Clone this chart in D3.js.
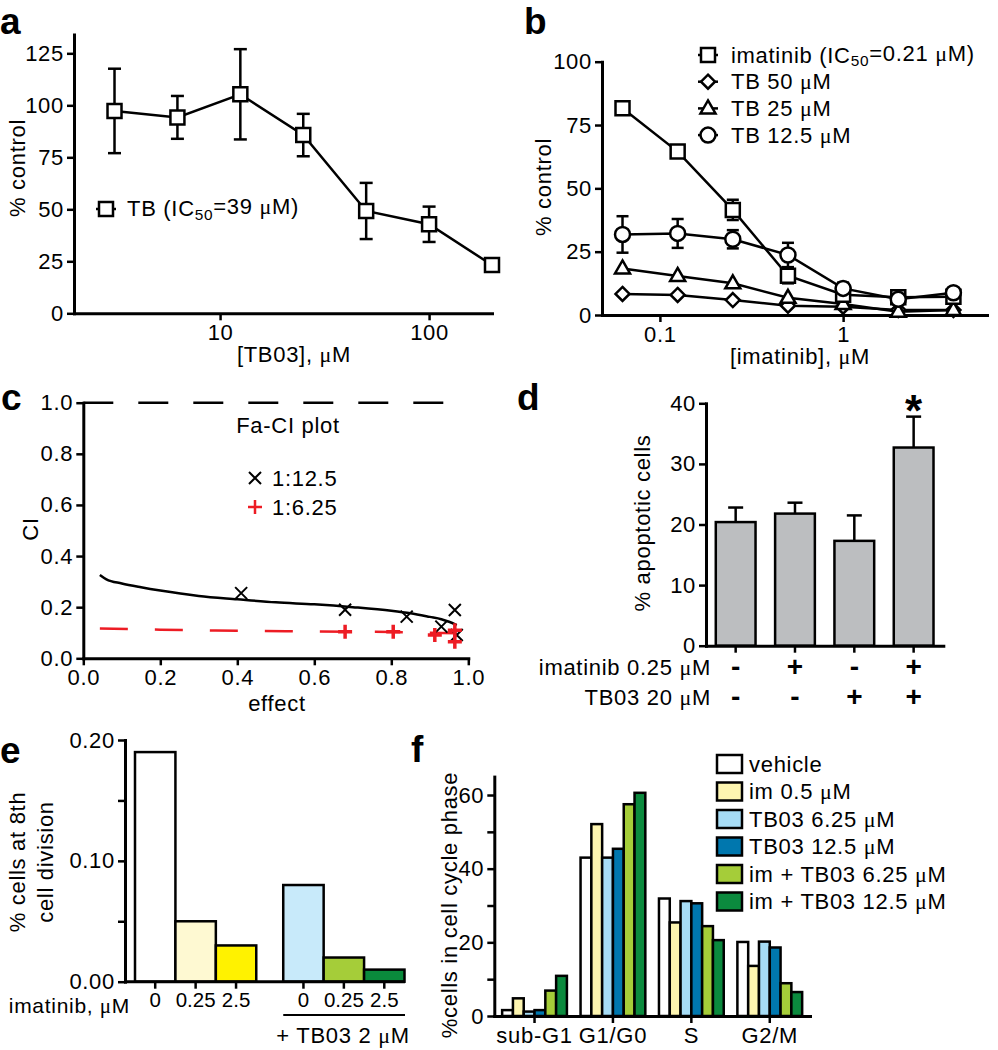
<!DOCTYPE html>
<html>
<head>
<meta charset="utf-8">
<script src="https://cdn.jsdelivr.net/npm/d3@7"></script>
<style>
  body { margin: 0; background: #fff; }
</style>
</head>
<body>
<div id="fig"></div>
<script>
// ---- data ----
// panel a
const aDose = [3.125, 6.25, 12.5, 25, 50, 100, 200];
const aMean = [97.3, 94.2, 105.3, 85.7, 49.2, 42.8, 23.2];
const aErr = [20.3, 10.3, 21.7, 10.2, 13.5, 8.5, 0];
const aTicksY = [0, 25, 50, 75, 100, 125];
const aTicksX = [10, 100];

// panel b
const bDose = [0.0625, 0.125, 0.25, 0.5, 1, 2, 4];
const bImatinib = [81.6, 64.5, 41.5, 15.5, 8, 7, 7.2];
const bImatinibErr = [0, 0, 4, 3, 1.5, 0.5, 0.5];
const bTb50 = [8.3, 7.9, 5.9, 3.7, 3.3, 2, 2];
const bTb25 = [18.4, 15.4, 12.5, 6.8, 4.3, 1.3, 2];
const bTb12 = [31.8, 32.2, 29.9, 23.7, 10.5, 6.2, 8.8];
const bTb12Err = [7.2, 5.7, 3.6, 4.8, 2.3, 0.5, 0.5];
const bTicksY = [0, 25, 50, 75, 100];
const bTicksX = [0.1, 1];

// panel c
const cCurveX = [0.043, 0.06, 0.1, 0.15, 0.2, 0.3, 0.4, 0.5, 0.6, 0.7, 0.8, 0.85, 0.9, 0.93, 0.95, 0.97];
const cCurveY = [0.326, 0.309, 0.293, 0.278, 0.265, 0.244, 0.231, 0.219, 0.211, 0.2, 0.186, 0.176, 0.162, 0.153, 0.143, 0.13];
const cRedLineX = [0.043, 0.2, 0.4, 0.6, 0.8, 0.9, 0.97];
const cRedLineY = [0.117, 0.112, 0.108, 0.105, 0.103, 0.1, 0.098];
const cBlackX = [0.41, 0.68, 0.84, 0.93, 0.965, 0.97];
const cBlackY = [0.255, 0.19, 0.163, 0.124, 0.189, 0.091];
const cRedX = [0.68, 0.805, 0.913, 0.965, 0.965];
const cRedY = [0.104, 0.104, 0.091, 0.11, 0.065];
const cTicks = [0, 0.2, 0.4, 0.6, 0.8, 1.0];

// panel d
const dGroups = ["g1", "g2", "g3", "g4"];
const dMean = [20.4, 21.8, 17.3, 32.7];
const dErr = [2.4, 1.8, 4.2, 5.1];
const dImatinib = ["-", "+", "-", "+"];
const dTb03 = ["-", "-", "+", "+"];
const dTicksY = [0, 10, 20, 30, 40];

// panel e
const eSets = ["none", "tb"];
const eDoses = ["0", "0.25", "2.5"];
const eValues = [[0.19, 0.05, 0.03], [0.08, 0.02, 0.01]];
const eTicksY = [0, 0.05, 0.10, 0.15, 0.20];

// panel f
const fPhases = ["sub-G1", "G1/G0", "S", "G2/M"];
const fSeries = ["vehicle", "im 0.5 μM", "TB03 6.25 μM", "TB03 12.5 μM", "im + TB03 6.25 μM", "im + TB03 12.5 μM"];
const fValues = [
  [1.6, 43, 31.9, 20.1],
  [4.8, 52.1, 25.4, 13.6],
  [1.2, 43, 31.2, 20.2],
  [1.6, 45.4, 30.6, 18.6],
  [6.9, 57.5, 24.4, 8.9],
  [10.9, 60.6, 20.6, 6.5]
];
const fTicksY = [0, 10, 20, 30, 40, 50, 60];

// ---- styles ----
const FONT = '"Liberation Sans", Arial, sans-serif';
const FS = 22;          // text size
const LS = "0.7px";     // the original lettering is a bit wide
const RED = "#ed1c24";
const E_COLORS = [["#ffffff", "#fef9d2", "#fff200"], ["#c8eafa", "#a5cd39", "#0a8a3c"]];
const F_COLORS = ["#ffffff", "#fdf5b0", "#a6dcf5", "#0077ae", "#a5cd39", "#0b8a3e"];

const svg = d3.select("#fig").append("svg")
    .attr("width", 998)
    .attr("height", 1050)
    .attr("font-family", FONT);

function styleAxis(g) {
  g.attr("font-family", FONT).attr("font-size", FS);
  g.select(".domain").attr("stroke", "#000").attr("stroke-width", 3)
    .attr("stroke-linecap", "square");
  g.selectAll(".tick line").attr("stroke", "#000").attr("stroke-width", 2.5);
  g.selectAll(".tick text").attr("fill", "#000").attr("letter-spacing", LS);
}

// text with a serif mu and optional subscript "50"
function richText(sel, str) {
  const parts = str.split(/(μ|_50)/);
  let sub = false;
  parts.forEach(p => {
    if (p === "") return;
    if (p === "μ") {
      sel.append("tspan").attr("font-family", '"Liberation Serif", serif').text("μ");
    } else if (p === "_50") {
      sel.append("tspan").attr("font-size", "0.7em").attr("dy", "0.25em").text("50");
      sub = true;
    } else {
      const t = sel.append("tspan").text(p);
      if (sub) { t.attr("dy", "-0.25em"); sub = false; }
    }
  });
}

function label(x, y, txt, opts = {}) {
  const t = svg.append("text")
      .attr("x", x).attr("y", y)
      .attr("font-size", opts.size || FS)
      .attr("letter-spacing", LS)
      .attr("text-anchor", opts.anchor || "start")
      .attr("font-weight", opts.weight || "normal")
      .attr("fill", opts.fill || "#000");
  if (opts.rotate) t.attr("transform", "rotate(-90," + x + "," + y + ")");
  richText(t, txt);
  return t;
}

function panelLetter(x, y, s) {
  svg.append("text").attr("x", x).attr("y", y)
    .attr("font-size", 37).attr("font-weight", "bold").text(s);
}

// marker shapes
const SYM = {
  square: "M-7,-7H7V7H-7Z",
  diamond: "M0,-7L7,0L0,7L-7,0Z",
  triangle: "M0,-8L7.5,5H-7.5Z",
  circle: "M7.5,0A7.5,7.5 0 1,1 -7.5,0A7.5,7.5 0 1,1 7.5,0Z",
  cross: "M-6,-6L6,6M-6,6L6,-6",
  plus: "M-7,0H7M0,-7V7"
};

function errorBars(g, xs, ys, errs, xScale, yScale, cap) {
  const d = xs.map((x, i) => ({x: x, y: ys[i], e: errs[i]})).filter(p => p.e > 0);
  const eb = g.selectAll(null).data(d).enter().append("g")
      .attr("stroke", "#000").attr("stroke-width", 2.5);
  eb.append("line")
      .attr("x1", p => xScale(p.x)).attr("x2", p => xScale(p.x))
      .attr("y1", p => yScale(p.y - p.e)).attr("y2", p => yScale(p.y + p.e));
  eb.append("line")
      .attr("x1", p => xScale(p.x) - cap).attr("x2", p => xScale(p.x) + cap)
      .attr("y1", p => yScale(p.y + p.e)).attr("y2", p => yScale(p.y + p.e));
  eb.append("line")
      .attr("x1", p => xScale(p.x) - cap).attr("x2", p => xScale(p.x) + cap)
      .attr("y1", p => yScale(p.y - p.e)).attr("y2", p => yScale(p.y - p.e));
}

function series(g, xs, ys, xScale, yScale, shape) {
  const pts = xs.map((x, i) => [x, ys[i]]);
  g.append("path")
      .attr("d", d3.line().x(p => xScale(p[0])).y(p => yScale(p[1]))(pts))
      .attr("fill", "none").attr("stroke", "#000").attr("stroke-width", 2.5);
  g.selectAll(null).data(pts).enter().append("path")
      .attr("d", SYM[shape])
      .attr("transform", p => "translate(" + xScale(p[0]) + "," + yScale(p[1]) + ")")
      .attr("fill", "#fff").attr("stroke", "#000").attr("stroke-width", 2.5);
}

function legendSymbol(g, x, y, shape) {
  g.append("line").attr("x1", x - 10).attr("x2", x + 10).attr("y1", y).attr("y2", y)
    .attr("stroke", "#000").attr("stroke-width", 2.5);
  g.append("path").attr("d", SYM[shape]).attr("transform", "translate(" + x + "," + y + ")")
    .attr("fill", "#fff").attr("stroke", "#000").attr("stroke-width", 2.5);
}

// ================= panel a =================
const xA = d3.scaleLog().domain([2, 200]).range([74, 492]);
const yA = d3.scaleLinear().domain([0, 134]).range([313.3, 34.6]);
const gA = svg.append("g");
gA.append("g").attr("transform", "translate(0," + yA(0) + ")")
  .call(d3.axisBottom(xA).tickValues(aTicksX).tickFormat(d3.format("d")).tickSize(7).tickSizeOuter(0).tickPadding(4))
  .call(styleAxis);
gA.append("g").attr("transform", "translate(" + xA(2) + ",0)")
  .call(d3.axisLeft(yA).tickValues(aTicksY).tickSize(7).tickSizeOuter(0).tickPadding(3))
  .call(styleAxis);
errorBars(gA, aDose, aMean, aErr, xA, yA, 6.5);
series(gA, aDose, aMean, xA, yA, "square");
legendSymbol(gA, 106, 209, "square");
label(127, 216, "TB (IC_50=39 μM)");
label(25, 168, "% control", {rotate: true, anchor: "middle"});
label(294, 362, "[TB03], μM", {anchor: "middle"});
panelLetter(0, 34, "a");

// ================= panel b =================
const xB = d3.scaleLog().domain([0.0483, 6.1]).range([602, 987]);
const yB = d3.scaleLinear().domain([0, 100]).range([315, 61.7]);
const gB = svg.append("g");
gB.append("g").attr("transform", "translate(0," + yB(0) + ")")
  .call(d3.axisBottom(xB).tickValues(bTicksX).tickFormat(d3.format("~g")).tickSize(7).tickSizeOuter(0).tickPadding(4))
  .call(styleAxis);
gB.append("g").attr("transform", "translate(" + xB.range()[0] + ",0)")
  .call(d3.axisLeft(yB).tickValues(bTicksY).tickSize(7).tickSizeOuter(0).tickPadding(3))
  .call(styleAxis);
errorBars(gB, bDose, bTb12, bTb12Err, xB, yB, 6);
errorBars(gB, bDose, bImatinib, bImatinibErr, xB, yB, 6);
series(gB, bDose, bTb50, xB, yB, "diamond");
series(gB, bDose, bTb25, xB, yB, "triangle");
series(gB, bDose, bImatinib, xB, yB, "square");
series(gB, bDose, bTb12, xB, yB, "circle");
const bLegend = [["square", "imatinib (IC_50=0.21 μM)"], ["diamond", "TB 50 μM"], ["triangle", "TB 25 μM"], ["circle", "TB 12.5 μM"]];
bLegend.forEach((d, i) => {
  const y = 55 + i * 26.7;
  legendSymbol(gB, 708, y, d[0]);
  label(731, y + 7.5, d[1]);
});
label(551, 187, "% control", {rotate: true, anchor: "middle"});
label(800, 364, "[imatinib], μM", {anchor: "middle"});
panelLetter(524, 34, "b");

// ================= panel c =================
const xC = d3.scaleLinear().domain([0, 1]).range([83.3, 468.3]);
const yC = d3.scaleLinear().domain([0, 1]).range([658.3, 402.7]);
const gC = svg.append("g");
gC.append("g").attr("transform", "translate(0," + yC(0) + ")")
  .call(d3.axisBottom(xC).tickValues(cTicks).tickFormat(d3.format(".1f")).tickSize(7).tickSizeOuter(0).tickPadding(4))
  .call(styleAxis);
gC.append("g").attr("transform", "translate(" + xC(0) + ",0)")
  .call(d3.axisLeft(yC).tickValues(cTicks).tickFormat(d3.format(".1f")).tickSize(7).tickSizeOuter(0).tickPadding(3))
  .call(styleAxis);
gC.append("line")
  .attr("x1", xC(0)).attr("x2", xC(0.94)).attr("y1", yC(1)).attr("y2", yC(1))
  .attr("stroke", "#000").attr("stroke-width", 2.5).attr("stroke-dasharray", "30,25");
const lineC = d3.line().x(p => xC(p[0])).y(p => yC(p[1])).curve(d3.curveMonotoneX);
gC.append("path").attr("d", lineC(cCurveX.map((x, i) => [x, cCurveY[i]])))
  .attr("fill", "none").attr("stroke", "#000").attr("stroke-width", 2.5);
gC.append("path").attr("d", lineC(cRedLineX.map((x, i) => [x, cRedLineY[i]])))
  .attr("fill", "none").attr("stroke", RED).attr("stroke-width", 2.5).attr("stroke-dasharray", "28,27");
gC.selectAll(null).data(cBlackX.map((x, i) => [x, cBlackY[i]])).enter().append("path")
  .attr("d", SYM.cross).attr("transform", p => "translate(" + xC(p[0]) + "," + yC(p[1]) + ")")
  .attr("stroke", "#000").attr("stroke-width", 2);
gC.selectAll(null).data(cRedX.map((x, i) => [x, cRedY[i]])).enter().append("path")
  .attr("d", SYM.plus).attr("transform", p => "translate(" + xC(p[0]) + "," + yC(p[1]) + ")")
  .attr("stroke", RED).attr("stroke-width", 3.5);
label(288, 433, "Fa-CI plot", {anchor: "middle"});
gC.append("path").attr("d", SYM.cross).attr("transform", "translate(255,478)")
  .attr("stroke", "#000").attr("stroke-width", 2);
label(272, 486, "1:12.5");
gC.append("path").attr("d", SYM.plus).attr("transform", "translate(255,507)")
  .attr("stroke", RED).attr("stroke-width", 2.5);
label(272, 515, "1:6.25");
label(38, 529, "CI", {rotate: true, anchor: "middle"});
label(277, 711, "effect", {anchor: "middle"});
panelLetter(1, 410, "c");

// ================= panel d =================
const xD = d3.scaleBand().domain(dGroups).range([706, 943.3]).paddingInner(0.33).paddingOuter(0.165);
const yD = d3.scaleLinear().domain([0, 40]).range([645.7, 403.3]);
const gD = svg.append("g");
gD.selectAll(null).data(dGroups).enter().append("rect")
  .attr("x", d => xD(d)).attr("width", xD.bandwidth())
  .attr("y", (d, i) => yD(dMean[i])).attr("height", (d, i) => yD(0) - yD(dMean[i]))
  .attr("fill", "#bcbec0").attr("stroke", "#000").attr("stroke-width", 2.5);
const dErrG = gD.selectAll(null).data(dGroups).enter().append("g")
  .attr("stroke", "#000").attr("stroke-width", 2.5);
dErrG.append("line")
  .attr("x1", d => xD(d) + xD.bandwidth() / 2).attr("x2", d => xD(d) + xD.bandwidth() / 2)
  .attr("y1", (d, i) => yD(dMean[i])).attr("y2", (d, i) => yD(dMean[i] + dErr[i]));
dErrG.append("line")
  .attr("x1", d => xD(d) + xD.bandwidth() / 2 - 7.5).attr("x2", d => xD(d) + xD.bandwidth() / 2 + 7.5)
  .attr("y1", (d, i) => yD(dMean[i] + dErr[i])).attr("y2", (d, i) => yD(dMean[i] + dErr[i]));
gD.append("g").attr("transform", "translate(0," + yD(0) + ")")
  .call(d3.axisBottom(xD).tickFormat("").tickSize(7).tickSizeOuter(0))
  .call(styleAxis);
gD.append("g").attr("transform", "translate(" + xD.range()[0] + ",0)")
  .call(d3.axisLeft(yD).tickValues(dTicksY).tickSize(7).tickSizeOuter(0).tickPadding(3))
  .call(styleAxis);
[[dImatinib, 675, "imatinib 0.25 μM"], [dTb03, 705, "TB03 20 μM"]].forEach(row => {
  label(711, row[1], row[2], {anchor: "end"});
  gD.selectAll(null).data(dGroups).enter().append("text")
    .attr("x", d => xD(d) + xD.bandwidth() / 2).attr("y", row[1] + 1)
    .attr("text-anchor", "middle").attr("font-size", 28).attr("font-weight", "bold")
    .text((d, i) => row[0][i]);
});
gD.append("text").attr("x", xD("g4") + xD.bandwidth() / 2).attr("y", 426)
  .attr("text-anchor", "middle").attr("font-size", 44).attr("font-weight", "bold").text("*");
label(650, 523, "% apoptotic cells", {rotate: true, anchor: "middle"});
panelLetter(517, 410, "d");

// ================= panel e =================
const xE = d3.scaleBand().domain(eSets).range([135, 404.5]).paddingInner(0.182).paddingOuter(0);
const xEin = d3.scaleBand().domain(eDoses).range([0, xE.bandwidth()]).padding(0);
const yE = d3.scaleLinear().domain([0, 0.2]).range([981.7, 740]);
const gE = svg.append("g");
eSets.forEach((s, si) => {
  const grp = gE.append("g").attr("transform", "translate(" + xE(s) + ",0)");
  grp.selectAll(null).data(eDoses).enter().append("rect")
    .attr("x", d => xEin(d)).attr("width", xEin.bandwidth())
    .attr("y", (d, i) => yE(eValues[si][i])).attr("height", (d, i) => yE(0) - yE(eValues[si][i]))
    .attr("fill", (d, i) => E_COLORS[si][i]).attr("stroke", "#000").attr("stroke-width", 2.5);
  grp.append("g").attr("transform", "translate(0," + yE(0) + ")")
    .call(d3.axisBottom(xEin).tickSize(7).tickSizeOuter(0).tickPadding(4))
    .call(styleAxis)
    .call(a => a.select(".domain").remove())
    .call(a => a.selectAll(".tick text").attr("font-size", 20.5).attr("letter-spacing", 0));
});
gE.append("line").attr("x1", 125).attr("x2", 405).attr("y1", yE(0)).attr("y2", yE(0))
  .attr("stroke", "#000").attr("stroke-width", 3);
gE.append("g").attr("transform", "translate(125,0)")
  .call(d3.axisLeft(yE).tickValues(eTicksY)
    .tickFormat(d => Math.round(d * 100) % 10 === 0 ? d3.format(".2f")(d) : "")
    .tickSize(7).tickSizeOuter(0).tickPadding(3))
  .call(styleAxis);
label(130, 1013, "imatinib, μM", {anchor: "end", size: 21});
gE.append("line").attr("x1", xE("tb")).attr("x2", 405).attr("y1", 1015).attr("y2", 1015)
  .attr("stroke", "#000").attr("stroke-width", 2);
label(343, 1043, "+ TB03 2 μM", {anchor: "middle"});
label(25, 862, "% cells at 8th", {rotate: true, anchor: "middle"});
label(53, 862, "cell division", {rotate: true, anchor: "middle"});
panelLetter(0, 763, "e");

// ================= panel f =================
const xF = d3.scaleBand().domain(fPhases).range([494.3, 810]).paddingInner(0.174).paddingOuter(0.1);
const xFin = d3.scaleBand().domain(fSeries).range([0, xF.bandwidth()]).padding(0);
const yF = d3.scaleLinear().domain([0, 65]).range([1016, 776.6]);
const gF = svg.append("g");
fPhases.forEach((ph, pi) => {
  const grp = gF.append("g").attr("transform", "translate(" + xF(ph) + ",0)");
  grp.selectAll(null).data(fSeries).enter().append("rect")
    .attr("x", d => xFin(d)).attr("width", xFin.bandwidth())
    .attr("y", (d, i) => yF(fValues[i][pi])).attr("height", (d, i) => yF(0) - yF(fValues[i][pi]))
    .attr("fill", (d, i) => F_COLORS[i]).attr("stroke", "#000").attr("stroke-width", 2.5);
});
gF.append("g").attr("transform", "translate(0," + yF(0) + ")")
  .call(d3.axisBottom(xF).tickSize(7).tickSizeOuter(0).tickPadding(4))
  .call(styleAxis);
gF.append("g").attr("transform", "translate(" + xF.range()[0] + ",0)")
  .call(d3.axisLeft(yF).tickValues(fTicksY).tickFormat(d => d % 20 === 0 ? d : "")
    .tickSize(7).tickSizeOuter(0).tickPadding(3))
  .call(styleAxis);
fSeries.forEach((s, i) => {
  const y = 764 + i * 27.5;
  gF.append("rect").attr("x", 717).attr("y", y - 9).attr("width", 25).attr("height", 18)
    .attr("fill", F_COLORS[i]).attr("stroke", "#000").attr("stroke-width", 2.5);
  label(749, y + 7.5, s);
});
label(457, 905, "%cells in cell cycle phase", {rotate: true, anchor: "middle"});
panelLetter(411, 762, "f");
</script>
</body>
</html>
